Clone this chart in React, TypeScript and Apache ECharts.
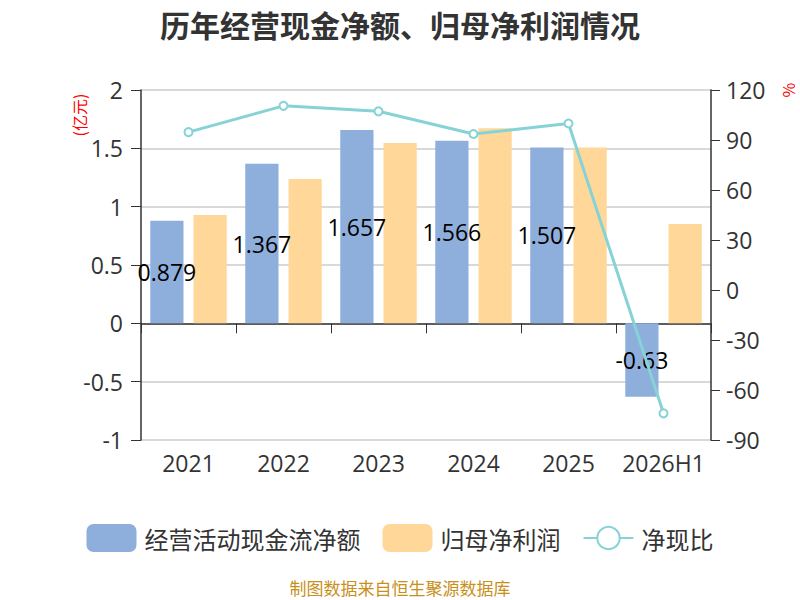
import React, { useEffect, useRef } from "react";
import * as echarts from "echarts";

const categories = ["2021", "2022", "2023", "2024", "2025", "2026H1"];
const cashFlow = [0.879, 1.367, 1.657, 1.566, 1.507, -0.63];
const netProfit = [0.928, 1.237, 1.545, 1.673, 1.508, 0.851];
const ratio = [94.7, 110.5, 107.2, 93.6, 99.9, -74.0];

const FONT = "'Open Sans', 'Noto Sans CJK SC', sans-serif";
const CJK = "'Noto Sans CJK SC', 'Noto Sans', sans-serif";

export default function App() {
  const ref = useRef<HTMLDivElement>(null);
  useEffect(() => {
    document.body.style.margin = "0";
    const chart = echarts.init(ref.current!, null, { renderer: "svg" });
    chart.setOption({
      animation: false,
      textStyle: { fontFamily: FONT },
      title: {
        text: "历年经营现金净额、归母净利润情况",
        left: "center",
        top: 4,
        textStyle: { fontSize: 30, fontWeight: "bold", color: "#333", fontFamily: CJK },
      },
      graphic: [
        {
          type: "text",
          x: 400,
          y: 587,
          style: {
            text: "制图数据来自恒生聚源数据库",
            fill: "#c8901a",
            fontSize: 17,
            fontFamily: CJK,
            textAlign: "center",
            textVerticalAlign: "middle",
          },
        },
        {
          type: "text",
          x: 79,
          y: 115,
          rotation: Math.PI / 2,
          style: {
            text: "(亿元)",
            fill: "#ff0000",
            fontSize: 16,
            fontFamily: CJK,
            textAlign: "center",
            textVerticalAlign: "middle",
          },
        },
        {
          type: "text",
          x: 788,
          y: 90,
          rotation: Math.PI / 2,
          style: {
            text: "%",
            fill: "#ff0000",
            fontSize: 16,
            fontFamily: CJK,
            textAlign: "center",
            textVerticalAlign: "middle",
          },
        },
      ],
      legend: {
        top: 519,
        left: "center",
        itemWidth: 50,
        itemHeight: 28,
        itemGap: 22,
        textStyle: { fontSize: 24, color: "#333", fontFamily: CJK, padding: [0, 0, 0, 3] },
        data: [
          { name: "经营活动现金流净额", icon: "roundRect" },
          { name: "归母净利润", icon: "roundRect" },
          { name: "净现比" },
        ],
      },
      grid: { left: 141, right: 89, top: 90, bottom: 160 },
      xAxis: [
        {
          type: "category",
          data: categories,
          axisLine: { onZero: true, lineStyle: { color: "#333", width: 1.5 } },
          axisTick: { show: true, length: 10, lineStyle: { color: "#333" } },
          axisLabel: { show: false },
        },
        {
          type: "category",
          data: categories,
          position: "bottom",
          axisLine: { show: false },
          axisTick: { show: false },
          axisLabel: { interval: 0, fontSize: 23, color: "#333", margin: 11, fontFamily: FONT },
        },
      ],
      yAxis: [
        {
          type: "value",
          min: -1,
          max: 2,
          interval: 0.5,
          axisLine: { show: true, lineStyle: { color: "#333", width: 1.5 } },
          axisTick: { show: true, length: 10, lineStyle: { color: "#333" } },
          axisLabel: { fontSize: 23, color: "#333", margin: 18, fontFamily: FONT },
          splitLine: { show: true, lineStyle: { color: "#ccc", width: 1.5 } },
        },
        {
          type: "value",
          min: -90,
          max: 120,
          interval: 30,
          position: "right",
          axisLine: { show: true, lineStyle: { color: "#333", width: 1.5 } },
          axisTick: { show: true, length: 9, lineStyle: { color: "#333" } },
          axisLabel: { fontSize: 23, color: "#333", margin: 15, fontFamily: FONT },
          splitLine: { show: false },
        },
      ],
      series: [
        {
          name: "经营活动现金流净额",
          type: "bar",
          data: cashFlow,
          xAxisIndex: 0,
          yAxisIndex: 0,
          barWidth: "35%",
          barGap: "30%",
          itemStyle: { color: "#8eaedb" },
          label: { show: true, position: "inside", color: "#000", fontSize: 23, fontFamily: FONT },
        },
        {
          name: "归母净利润",
          type: "bar",
          data: netProfit,
          xAxisIndex: 0,
          yAxisIndex: 0,
          barWidth: "35%",
          barGap: "30%",
          itemStyle: { color: "#ffd899" },
        },
        {
          name: "净现比",
          type: "line",
          data: ratio,
          xAxisIndex: 0,
          yAxisIndex: 1,
          symbol: "emptyCircle",
          symbolSize: 8,
          lineStyle: { color: "#85d3d6", width: 3 },
          itemStyle: { color: "#85d3d6", borderWidth: 2 },
        },
      ],
    });
    return () => chart.dispose();
  }, []);
  return <div ref={ref} style={{ width: 800, height: 600 }} />;
}
